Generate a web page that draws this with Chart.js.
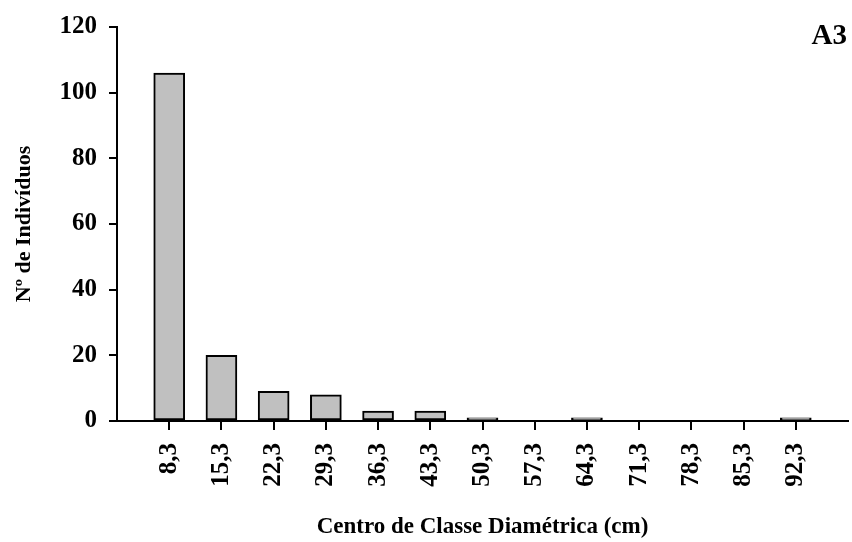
<!DOCTYPE html>
<html>
<head>
<meta charset="utf-8">
<script src="https://cdn.jsdelivr.net/npm/chart.js@4.4.1/dist/chart.umd.min.js"></script>
<style>
html,body{margin:0;padding:0;background:#fff;}
canvas{display:block;}
</style>
</head>
<body>
<canvas id="c" width="852" height="542"></canvas>
<script>
const categories = ['8,3','15,3','22,3','29,3','36,3','43,3','50,3','57,3','64,3','71,3','78,3','85,3','92,3'];
const counts = [106, 20, 9, 8, 3, 3, 1, 0, 1, 0, 0, 0, 1];
const yTicks = [0, 20, 40, 60, 80, 100, 120];
const panelLabel = 'A3';
const xTitle = 'Centro de Classe Diamétrica (cm)';
const yTitle = 'Nº de Indivíduos';

const labels = [''].concat(categories, ['']);
const data = [null].concat(counts, [null]);
const FONT = "'Liberation Serif', 'Times New Roman', serif";

const panelPlugin = {
  id: 'panelLabel',
  afterDraw(chart) {
    const ctx = chart.ctx;
    ctx.save();
    ctx.font = "bold 29px " + FONT;
    ctx.fillStyle = '#000';
    ctx.textAlign = 'right';
    ctx.textBaseline = 'alphabetic';
    ctx.fillText(panelLabel, 847, 44);
    ctx.restore();
  }
};

new Chart(document.getElementById('c'), {
  type: 'bar',
  data: {
    labels: labels,
    datasets: [{
      data: data,
      backgroundColor: '#c0c0c0',
      borderColor: '#000',
      borderWidth: 2,
      borderSkipped: false,
      barThickness: 31
    }]
  },
  options: {
    responsive: false,
    animation: false,
    layout: { padding: { left: 0, right: 4, top: 22, bottom: 0 } },
    plugins: { legend: { display: false }, tooltip: { enabled: false } },
    scales: {
      x: {
        offset: false,
        grid: {
          display: true,
          offset: false,
          drawOnChartArea: false,
          drawTicks: true,
          tickLength: 9,
          lineWidth: 2,
          color: (c) => (c.index === 0 || c.index === labels.length - 1) ? 'rgba(0,0,0,0)' : '#000'
        },
        border: { display: true, color: '#000', width: 2 },
        ticks: {
          autoSkip: false,
          maxRotation: 90,
          minRotation: 90,
          padding: 13,
          color: '#000',
          font: { family: FONT, size: 25, weight: 'bold' }
        },
        title: {
          display: true,
          text: xTitle,
          color: '#000',
          font: { family: FONT, size: 23, weight: 'bold' },
          padding: { top: 0, bottom: 1 }
        },
        afterFit: (s) => { s.height = 121; s.paddingLeft = 0; s.paddingRight = 0; }
      },
      y: {
        min: 0,
        max: 120,
        grid: {
          display: true,
          drawOnChartArea: false,
          drawTicks: true,
          tickLength: 8,
          lineWidth: 2,
          color: '#000'
        },
        border: { display: true, color: '#000', width: 2 },
        afterBuildTicks: (s) => { s.ticks = yTicks.map(v => ({ value: v })); },
        ticks: {
          padding: 12,
          color: '#000',
          font: { family: FONT, size: 25, weight: 'bold' }
        },
        title: {
          display: true,
          text: yTitle,
          color: '#000',
          font: { family: FONT, size: 22, weight: 'bold' },
          padding: { top: 11, bottom: 0 }
        },
        afterFit: (s) => { s.width = 117; }
      }
    }
  },
  plugins: [panelPlugin]
});
</script>
</body>
</html>
